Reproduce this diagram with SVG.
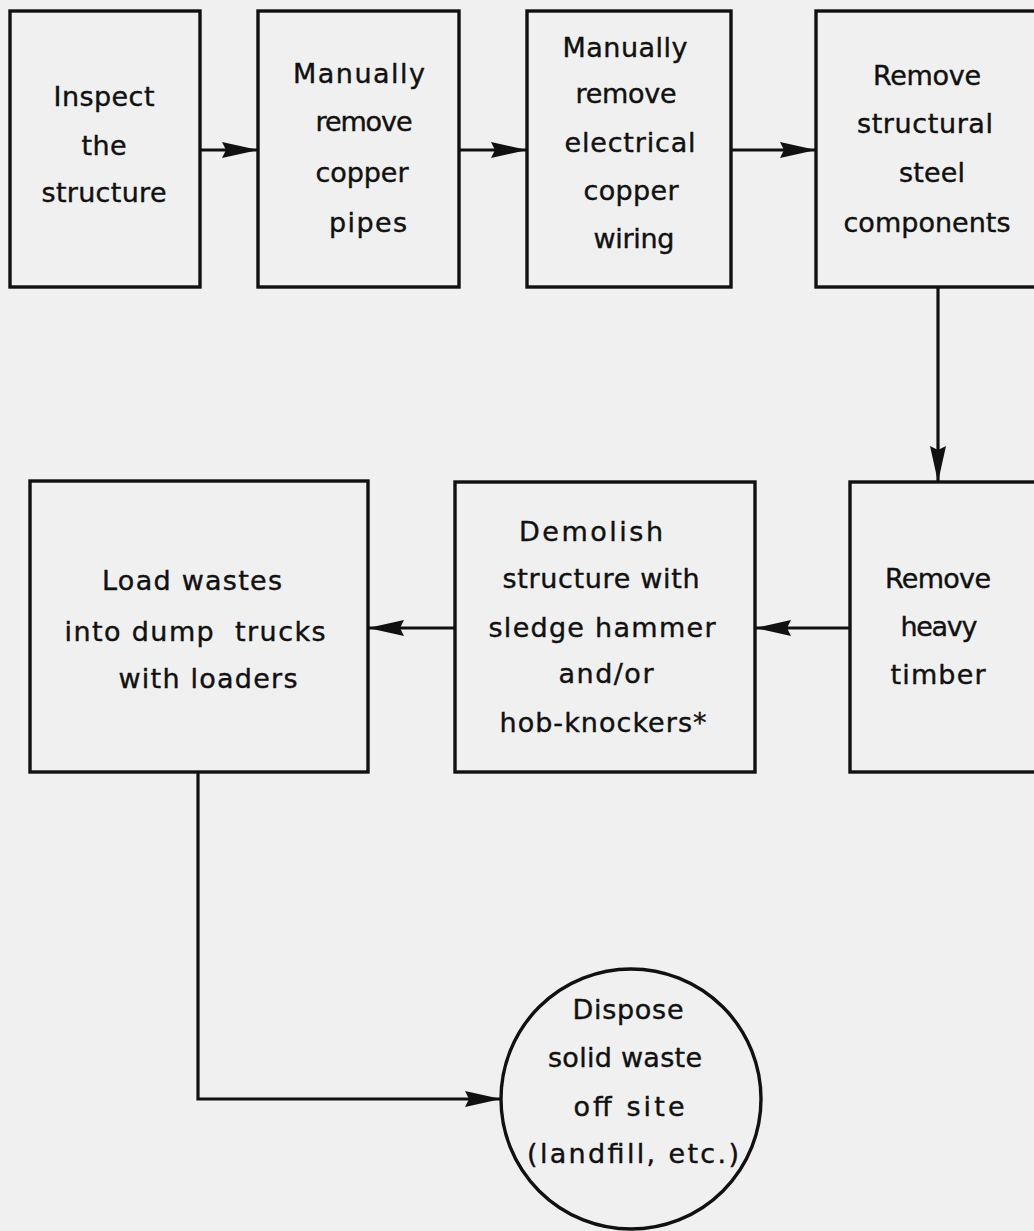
<svg xmlns="http://www.w3.org/2000/svg" width="1034" height="1231" viewBox="0 0 1034 1231">
<style>
.box{fill:none;stroke:#111;stroke-width:3.4}
.t{font-family:"DejaVu Sans","Liberation Sans",sans-serif;font-size:27px;fill:#111;stroke:#111;stroke-width:0.4;text-anchor:middle}
.c{fill:none;stroke:#111;stroke-width:3.2}
</style>
<defs>
<marker id="ah" markerUnits="userSpaceOnUse" markerWidth="38" markerHeight="18" refX="36" refY="9" orient="auto">
<path d="M0,1 L36,9 L0,17 L4,9 z" fill="#111"/>
</marker>
</defs>
<rect width="1034" height="1231" fill="#f0f0f0"/>
<g id="connectors">
<line class="c" x1="200" y1="150" x2="258" y2="150" marker-end="url(#ah)"/>
<line class="c" x1="459" y1="150" x2="527" y2="150" marker-end="url(#ah)"/>
<line class="c" x1="731" y1="150" x2="816" y2="150" marker-end="url(#ah)"/>
<line class="c" x1="938" y1="287" x2="938" y2="482" marker-end="url(#ah)"/>
<line class="c" x1="850" y1="628" x2="755" y2="628" marker-end="url(#ah)"/>
<line class="c" x1="455" y1="628" x2="368" y2="628" marker-end="url(#ah)"/>
<polyline class="c" points="198,772 198,1099 501,1099" marker-end="url(#ah)"/>
</g>
<g id="n1">
<rect class="box" x="10" y="11" width="190" height="276"/>
<text class="t" x="104" y="106" textLength="101" lengthAdjust="spacing">Inspect</text>
<text class="t" x="104" y="155" textLength="45" lengthAdjust="spacing">the</text>
<text class="t" x="104" y="202" textLength="125" lengthAdjust="spacing">structure</text>
</g>
<g id="n2">
<rect class="box" x="258" y="11" width="201" height="276"/>
<text class="t" x="359" y="83" textLength="132" lengthAdjust="spacing">Manually</text>
<text class="t" x="364" y="131" textLength="97" lengthAdjust="spacing">remove</text>
<text class="t" x="362" y="182" textLength="93" lengthAdjust="spacing">copper</text>
<text class="t" x="368" y="232" textLength="78" lengthAdjust="spacing">pipes</text>
</g>
<g id="n3">
<rect class="box" x="527" y="11" width="204" height="276"/>
<text class="t" x="625" y="57" textLength="125" lengthAdjust="spacing">Manually</text>
<text class="t" x="626" y="103" textLength="101" lengthAdjust="spacing">remove</text>
<text class="t" x="630" y="152" textLength="131" lengthAdjust="spacing">electrical</text>
<text class="t" x="631" y="200" textLength="95" lengthAdjust="spacing">copper</text>
<text class="t" x="634" y="248" textLength="81" lengthAdjust="spacing">wiring</text>
</g>
<g id="n4">
<rect class="box" x="816" y="11" width="224" height="276"/>
<text class="t" x="927" y="85" textLength="108" lengthAdjust="spacing">Remove</text>
<text class="t" x="925" y="133" textLength="136" lengthAdjust="spacing">structural</text>
<text class="t" x="932" y="182" textLength="66" lengthAdjust="spacing">steel</text>
<text class="t" x="927" y="232" textLength="167" lengthAdjust="spacing">components</text>
</g>
<g id="n5">
<rect class="box" x="850" y="482" width="190" height="290"/>
<text class="t" x="938" y="588" textLength="106" lengthAdjust="spacing">Remove</text>
<text class="t" x="939" y="636" textLength="77" lengthAdjust="spacing">heavy</text>
<text class="t" x="938" y="684" textLength="95" lengthAdjust="spacing">timber</text>
</g>
<g id="n6">
<rect class="box" x="455" y="482" width="300" height="290"/>
<text class="t" x="591" y="541" textLength="144" lengthAdjust="spacing">Demolish</text>
<text class="t" x="601" y="588" textLength="197" lengthAdjust="spacing">structure with</text>
<text class="t" x="602" y="637" textLength="227" lengthAdjust="spacing">sledge hammer</text>
<text class="t" x="606" y="683" textLength="95" lengthAdjust="spacing">and/or</text>
<text class="t" x="603" y="732" textLength="207" lengthAdjust="spacing">hob-knockers*</text>
</g>
<g id="n7">
<rect class="box" x="30" y="481" width="338" height="291"/>
<text class="t" x="192" y="590" textLength="180" lengthAdjust="spacing">Load wastes</text>
<text class="t" x="195" y="641" textLength="261" lengthAdjust="spacing" xml:space="preserve">into dump  trucks</text>
<text class="t" x="208" y="688" textLength="179" lengthAdjust="spacing">with loaders</text>
</g>
<g id="n8">
<circle class="box" cx="631" cy="1099" r="130"/>
<text class="t" x="628" y="1019" textLength="111" lengthAdjust="spacing">Dispose</text>
<text class="t" x="625" y="1067" textLength="154" lengthAdjust="spacing">solid waste</text>
<text class="t" x="629" y="1116" textLength="111" lengthAdjust="spacing">off site</text>
<text class="t" x="633" y="1163" textLength="212" lengthAdjust="spacing">(landfill, etc.)</text>
</g>
</svg>
